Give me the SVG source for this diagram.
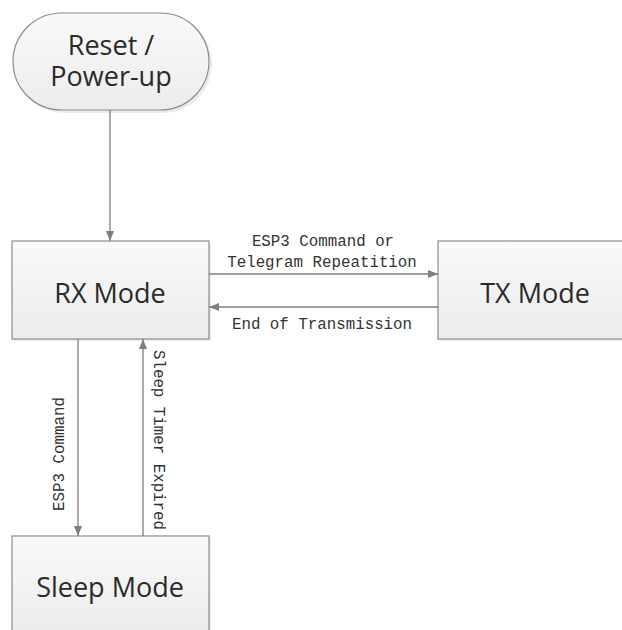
<svg xmlns="http://www.w3.org/2000/svg" width="622" height="630" viewBox="0 0 622 630">
<style>
.box{fill:url(#g);stroke:#8c8c8c;stroke-width:1.2}
.sh{fill:#000;opacity:0.08}
.t{font-family:"Open Sans","DejaVu Sans",sans-serif;font-size:27px;fill:#2a2a2a;text-anchor:middle}
.l{font-family:"Liberation Mono","DejaVu Sans Mono",monospace;font-size:15.8px;fill:#333;text-anchor:middle}
.c{stroke:#7f7f7f;stroke-width:1.3;fill:none;marker-end:url(#a)}
</style>
<defs>
<linearGradient id="g" x1="0" y1="0" x2="0" y2="1">
<stop offset="0" stop-color="#f9f9f9"/>
<stop offset="1" stop-color="#ececec"/>
</linearGradient>
<marker id="a" viewBox="0 0 10 10" refX="10" refY="5" markerWidth="10" markerHeight="10" markerUnits="userSpaceOnUse" orient="auto">
<path d="M0,1 L10,5 L0,9 Z" fill="#7f7f7f"/>
</marker>
</defs>
<g id="reset">
<rect class="sh" x="15" y="15" width="197" height="98" rx="49"/>
<rect class="box" x="13" y="13" width="196" height="97" rx="48.5"/>
<text class="t" x="111" y="55">Reset /</text>
<text class="t" x="111" y="86">Power-up</text>
</g>
<g id="rx">
<rect class="sh" x="14" y="243" width="197" height="98"/>
<rect class="box" x="12" y="241" width="197" height="98"/>
<text class="t" x="110" y="303">RX Mode</text>
</g>
<g id="tx">
<rect class="sh" x="440" y="243" width="190" height="98"/>
<rect class="box" x="438" y="241" width="190" height="98"/>
<text class="t" x="535" y="303">TX Mode</text>
</g>
<g id="sleep">
<rect class="sh" x="14" y="538" width="197" height="98"/>
<rect class="box" x="12" y="536" width="197" height="98"/>
<text class="t" x="110" y="597">Sleep Mode</text>
</g>
<g id="connectors">
<path class="c" d="M110,110 V241"/>
<path class="c" d="M209,274 H438"/>
<path class="c" d="M438,307 H209"/>
<path class="c" d="M78,339 V536"/>
<path class="c" d="M143,536 V339"/>
<text class="l" x="323" y="246">ESP3 Command or</text>
<text class="l" x="322" y="267">Telegram Repeatition</text>
<text class="l" x="322" y="329">End of Transmission</text>
<text class="l" transform="translate(64,454) rotate(-90)">ESP3 Command</text>
<text class="l" transform="translate(154,440) rotate(90)">Sleep Timer Expired</text>
</g>
</svg>
